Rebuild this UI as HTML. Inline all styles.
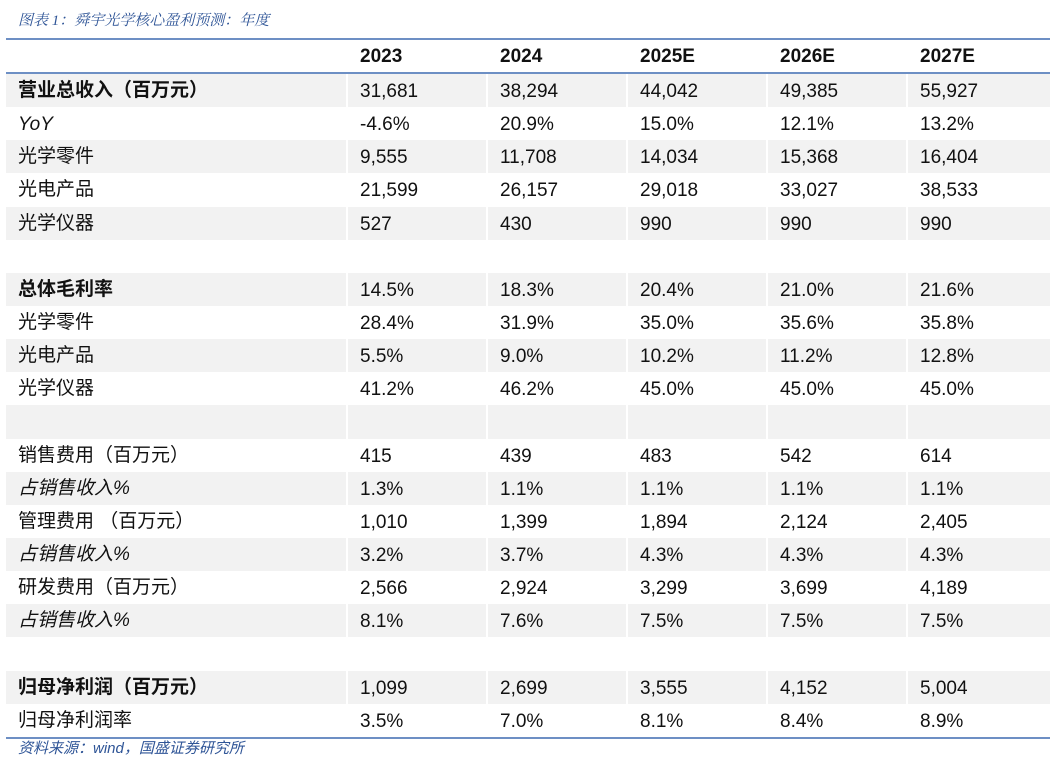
<!DOCTYPE html>
<html><head><meta charset="utf-8"><style>
body{margin:0;width:1057px;height:770px;background:#fff;font-family:"Liberation Sans","Noto Sans CJK SC",sans-serif;position:relative;overflow:hidden}
.title{position:absolute;left:18px;top:9px;font-size:15px;font-style:italic;color:#2f5597;font-family:"Liberation Serif","Noto Serif CJK SC",serif}
.src{position:absolute;left:18px;top:737px;font-size:15px;font-style:italic;color:#2f5597}
.tbl{position:absolute;left:6px;top:38px;width:1044px;border-top:2px solid #6d8fc4;border-bottom:2px solid #6d8fc4}
.row{height:33.15px;position:relative;font-size:19px;color:#111}
.row.g{background:#f2f2f2}
.hdr{height:32px;border-bottom:2px solid #6d8fc4;font-weight:bold}
.c{position:absolute;top:0;height:100%;line-height:35px;white-space:nowrap}
.hdr .c{line-height:34px}
.cj{line-height:33px}
.sep{position:absolute;top:0;bottom:0;width:2px;background:#fff}
.b{font-weight:bold}.i{font-style:italic}
</style></head><body>
<div class="title">图表 1：舜宇光学核心盈利预测：年度</div>
<div class="tbl" id="tbl"></div>
<div class="src">资料来源：wind，国盛证券研究所</div>
<script>
const years=["2023","2024","2025E","2026E","2027E"];
const labels=["营业总收入（百万元）","YoY","光学零件","光电产品","光学仪器","","总体毛利率","光学零件","光电产品","光学仪器","","销售费用（百万元）","占销售收入%","管理费用 （百万元）","占销售收入%","研发费用（百万元）","占销售收入%","","归母净利润（百万元）","归母净利润率"];
const styles=["b","i","","","","","b","","","","","","i","","i","","i","","b",""];
const values=[
["31,681","38,294","44,042","49,385","55,927"],
["-4.6%","20.9%","15.0%","12.1%","13.2%"],
["9,555","11,708","14,034","15,368","16,404"],
["21,599","26,157","29,018","33,027","38,533"],
["527","430","990","990","990"],
[],
["14.5%","18.3%","20.4%","21.0%","21.6%"],
["28.4%","31.9%","35.0%","35.6%","35.8%"],
["5.5%","9.0%","10.2%","11.2%","12.8%"],
["41.2%","46.2%","45.0%","45.0%","45.0%"],
[],
["415","439","483","542","614"],
["1.3%","1.1%","1.1%","1.1%","1.1%"],
["1,010","1,399","1,894","2,124","2,405"],
["3.2%","3.7%","4.3%","4.3%","4.3%"],
["2,566","2,924","3,299","3,699","4,189"],
["8.1%","7.6%","7.5%","7.5%","7.5%"],
[],
["1,099","2,699","3,555","4,152","5,004"],
["3.5%","7.0%","8.1%","8.4%","8.9%"]];
const colX=[354,494,634,774,914];
const sepX=[340,480,620,760,900];
const tbl=document.getElementById('tbl');
function mk(cls,txt,x){const d=document.createElement('div');d.className='c '+cls;d.textContent=txt;d.style.left=x+'px';return d;}
const h=document.createElement('div');h.className='row hdr';


years.forEach((y,j)=>{const d=mk('',y,colX[j]);


h.appendChild(d);});
tbl.appendChild(h);
labels.forEach((l,i)=>{
const r=document.createElement('div');r.className='row'+(i%2==0?' g':'');


sepX.forEach(x=>{const s=document.createElement('div');s.className='sep';s.style.left=x+'px';r.appendChild(s);});
if(l){const d=mk(styles[i]+(l==='YoY'?'':' cj'),l,12);


r.appendChild(d);}
(values[i]||[]).forEach((v,j)=>{const d=mk('',v,colX[j]);


r.appendChild(d);});
tbl.appendChild(r);});
</script>
</body></html>
